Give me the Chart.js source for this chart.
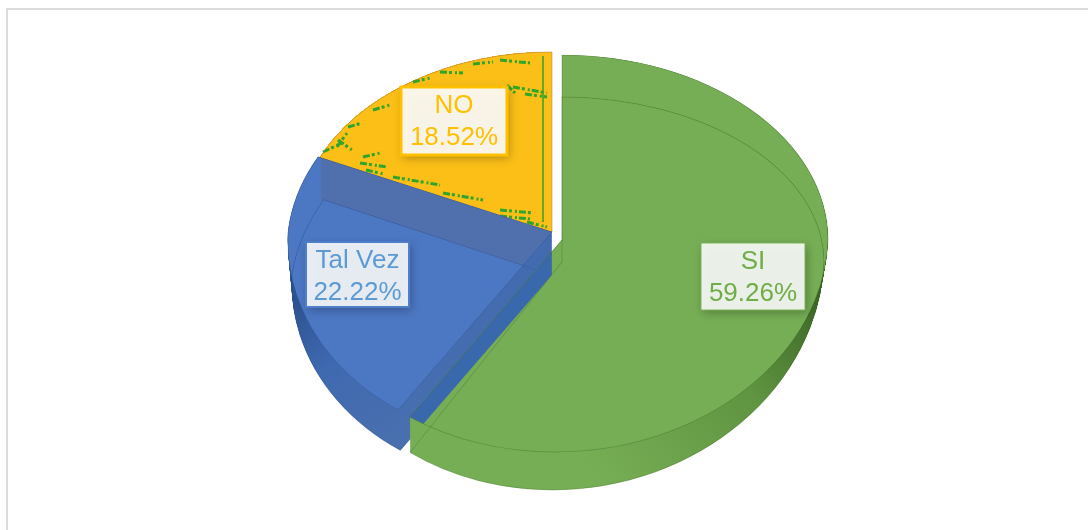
<!DOCTYPE html>
<html>
<head>
<meta charset="utf-8">
<style>
  html, body { margin: 0; background: #fff; overflow: hidden; }
  #marco { position: absolute; left: 6px; top: 8px; width: 1090px; height: 530px; border-left: 2px solid #dcdcdc; border-top: 2px solid #dcdcdc; }
  #grafico { position: absolute; left: 0; top: 0; }
</style>
</head>
<body>
<div id="marco"></div>
<canvas id="grafico" width="1088" height="530"></canvas>
<script src="https://cdn.jsdelivr.net/npm/chart.js@4"></script>
<script>
// Datos del gráfico
const categorias = ['SI', 'Tal Vez', 'NO'];
const valores = [59.26, 22.22, 18.52];

// Colores de cada porción
const colorCara = ['#76ae55', '#4c77c3', '#fbbf17'];
const colorBanda = ['#76ae55', '#5070ad', '#fbbf17'];
const colorLinea = ['rgba(50,90,30,0.3)', 'rgba(35,65,125,0.25)', 'rgba(170,120,70,0.6)'];
const colorTexto = ['#70ad47', '#5b9bd5', '#ffc000'];
const colorBorde = ['#7ab356', '#4f7fc8', '#ffc000'];

// Pared lateral: degradado [x0, y0, x1, y1, color inicial, color medio, color final]
const paredes = [
    [600, 480, 825, 300, '#76ae55', '#5f9440', '#3c6627'],
    [400, 450, 295, 300, '#4a70ae', '#3f69b0', '#2d5290'],
    [0, 0, 1088, 0, '#fbbf17', '#fbbf17', '#fbbf17']
];

// Forma en perspectiva: elipse distinta arriba y abajo del vértice
const carasArriba = [
    { x: 562, y: 240, rx: 266, ryUp: 185, ryDown: 212, kUp: 0, kDown: -0.034 },
    { x: 552, y: 232, rx: 264, ryUp: 190, ryDown: 213, kUp: -0.112, kDown: -0.05 },
    { x: 552, y: 232, rx: 255, ryUp: 180, ryDown: 180, kUp: 0, kDown: 0 }
];
const carasAbajo = [
    { x: 562, y: 262, rx: 262, ryUp: 165, ryDown: 228, kUp: 0, kDown: -0.042 },
    { x: 552, y: 275, rx: 260, ryUp: 190, ryDown: 210, kUp: -0.14, kDown: -0.05 },
    carasArriba[2]
];

// Recuadros de las etiquetas
const recuadros = [
    { x: 701, y: 243, w: 104, h: 67, fondo: 'rgba(255,255,255,0.88)', grosor: 1 },
    { x: 306, y: 242, w: 103, h: 65, fondo: 'rgba(255,255,255,0.88)', grosor: 2 },
    { x: 401, y: 87, w: 106, h: 68, fondo: 'rgba(255,255,255,0.9)', grosor: 3 }
];

// Manchas verdes de la textura de la porción amarilla
const manchas = [
    [360, 163, 387, 167], [393, 177, 440, 185], [443, 193, 483, 200], [500, 210, 533, 213],
    [527, 222, 547, 227], [323, 152, 342, 143], [337, 147, 347, 133], [348, 127, 362, 123],
    [373, 110, 390, 105], [413, 82, 430, 78], [440, 72, 463, 73], [473, 64, 493, 62],
    [500, 60, 530, 63], [513, 87, 547, 93], [507, 85, 515, 93], [363, 157, 380, 153],
    [366, 170, 384, 174], [338, 140, 352, 150], [500, 216, 530, 219], [525, 94, 547, 97]
];

const ANCHO = 1088;
const ALTO = 530;

function capa(dibujo) {
    const lienzo = document.createElement('canvas');
    lienzo.width = ANCHO;
    lienzo.height = ALTO;
    dibujo(lienzo.getContext('2d'));
    return lienzo;
}

function combinar(a, operacion, b) {
    return capa(c => {
        c.drawImage(a, 0, 0);
        c.globalCompositeOperation = operacion;
        c.drawImage(b, 0, 0);
    });
}

function tenir(mascara, relleno) {
    return capa(c => {
        c.drawImage(mascara, 0, 0);
        c.globalCompositeOperation = 'source-in';
        c.fillStyle = relleno;
        c.fillRect(0, 0, ANCHO, ALTO);
    });
}

function dibujarCara(c, arco, f, opciones) {
    const base = arco.options;
    const R = arco.outerRadius;
    arco.options = Object.assign(Object.create(base), opciones);
    [[f.ryUp, f.kUp, true], [f.ryDown, f.kDown, false]].forEach(([ry, k, arriba]) => {
        c.save();
        c.beginPath();
        if (arriba) {
            c.rect(0, 0, ANCHO, f.y + 0.5);
        } else {
            c.rect(0, f.y - 0.5, ANCHO, ALTO);
        }
        c.clip();
        c.translate(f.x, f.y);
        c.transform(f.rx / R, 0, k * ry / R, ry / R, 0, 0);
        c.translate(-arco.x, -arco.y);
        arco.draw(c);
        c.restore();
    });
    arco.options = base;
}

function mezclar(a, b, t) {
    const r = {};
    Object.keys(a).forEach(k => { r[k] = a[k] + (b[k] - a[k]) * t; });
    return r;
}

const relleno = { backgroundColor: '#000', borderWidth: 0 };

function silueta(arco, i) {
    return capa(c => {
        for (let t = 0; t <= 1.0001; t += 0.02) {
            dibujarCara(c, arco, mezclar(carasArriba[i], carasAbajo[i], t), relleno);
        }
    });
}

function dibujarManchas(ctx) {
    ctx.save();
    ctx.strokeStyle = '#2fa52c';
    ctx.lineWidth = 3;
    ctx.setLineDash([7, 2, 3, 3, 2, 2]);
    manchas.forEach(m => {
        ctx.beginPath();
        ctx.moveTo(m[0], m[1]);
        ctx.lineTo(m[2], m[3]);
        ctx.stroke();
    });
    ctx.setLineDash([]);
    ctx.lineWidth = 1.5;
    ctx.beginPath();
    ctx.moveTo(543, 56);
    ctx.lineTo(543, 222);
    ctx.stroke();
    ctx.restore();
}

// Pinta las tres porciones con los arcos que calcula Chart.js
const pastel3d = {
    id: 'pastel3d',
    beforeDatasetsDraw(chart) {
        const ctx = chart.ctx;
        const arcos = chart.getDatasetMeta(0).data;
        const siluetas = [];
        [2, 1, 0].forEach(i => {
            const arco = arcos[i];
            const arriba = capa(c => dibujarCara(c, arco, carasArriba[i], relleno));
            const abajo = capa(c => dibujarCara(c, arco, carasAbajo[i], relleno));
            siluetas[i] = silueta(arco, i);

            const p = paredes[i];
            const degradado = ctx.createLinearGradient(p[0], p[1], p[2], p[3]);
            degradado.addColorStop(0, p[4]);
            degradado.addColorStop(0.6, p[5]);
            degradado.addColorStop(1, p[6]);

            // la banda oscura del azul solo cubre el corte trasero, no el borde curvo
            const tonoBanda = ctx.createLinearGradient(320, 0, 322, 0);
            tonoBanda.addColorStop(0, colorCara[i]);
            tonoBanda.addColorStop(1, colorBanda[i]);

            ctx.drawImage(tenir(siluetas[i], degradado), 0, 0);
            ctx.drawImage(tenir(combinar(arriba, 'destination-in', abajo), colorCara[i]), 0, 0);
            const banda = combinar(arriba, 'destination-out', abajo);
            ctx.drawImage(tenir(banda, tonoBanda), 0, 0);

            if (i === 2) {
                dibujarManchas(ctx);
            }
            if (i === 0) {
                // el verde es translúcido donde pasa sobre el azul
                const cruce = combinar(banda, 'destination-in', siluetas[1]);
                ctx.drawImage(tenir(cruce, '#3a68ad'), 0, 0);
            }

            const linea = { backgroundColor: 'rgba(0,0,0,0)', borderColor: colorLinea[i], borderWidth: 1 };
            dibujarCara(ctx, arco, carasArriba[i], linea);
            if (i !== 2) {
                dibujarCara(ctx, arco, carasAbajo[i], linea);
            }
        });
        return false;
    },
    afterDraw(chart) {
        const ctx = chart.ctx;
        categorias.forEach((nombre, i) => {
            const r = recuadros[i];
            const medio = r.x + r.w / 2;
            ctx.save();
            ctx.shadowColor = 'rgba(0,0,0,0.32)';
            ctx.shadowBlur = 9;
            ctx.shadowOffsetX = 2;
            ctx.shadowOffsetY = 3;
            ctx.fillStyle = r.fondo;
            ctx.fillRect(r.x, r.y, r.w, r.h);
            ctx.restore();
            ctx.strokeStyle = colorBorde[i];
            ctx.lineWidth = r.grosor;
            ctx.strokeRect(r.x, r.y, r.w, r.h);
            ctx.fillStyle = colorTexto[i];
            ctx.font = '26px "Liberation Sans"';
            ctx.textAlign = 'center';
            ctx.textBaseline = 'middle';
            ctx.fillText(nombre, medio, r.y + 19);
            ctx.fillText(valores[i].toFixed(2) + '%', medio, r.y + 51);
        });
    }
};

new Chart(document.getElementById('grafico'), {
    type: 'pie',
    data: {
        labels: categorias,
        datasets: [{
            data: valores,
            backgroundColor: colorCara,
            borderWidth: 0
        }]
    },
    options: {
        responsive: false,
        animation: false,
        plugins: {
            legend: { display: false },
            tooltip: { enabled: false }
        }
    },
    plugins: [pastel3d]
});
</script>
</body>
</html>
